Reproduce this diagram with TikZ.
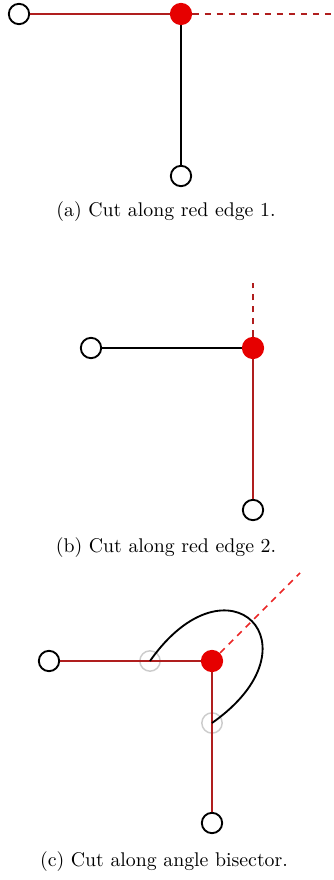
\documentclass[tikz,border=0pt]{standalone}
\usepackage{xcolor}
\usepackage{tikz}
\usetikzlibrary{positioning,calc}
\definecolor{edgered}{RGB}{176,30,30}
\definecolor{cutred}{RGB}{230,0,0}

\begin{document}
\begin{tikzpicture}[
  x=0.54pt, y=0.54pt,
  vtx/.style={circle, draw=black, line width=1pt, fill=white,
    minimum size=11pt, inner sep=0pt},
  cutvtx/.style={circle, fill=cutred, minimum size=12pt, inner sep=0pt},
  ghost/.style={circle, draw=black!20, line width=0.8pt,
    minimum size=11pt, inner sep=0pt},
  redge/.style={draw=edgered, line width=1pt},
  bedge/.style={draw=black, line width=1pt},
  cutline/.style={draw=edgered, line width=1pt, dash pattern=on 3.5pt off 3pt},
  caption/.style={font=\fontsize{10.7pt}{13pt}\selectfont}
]
  \useasboundingbox (0,0) rectangle (333,880);

  % (a) cut along red edge 1
  \node[vtx] (a1) at (19,866) {};
  \node[vtx] (a2) at (181,704) {};
  \coordinate (ae) at (333,866);
  \draw[redge] (a1) -- (181,866);
  \draw[bedge] (181,866) -- (a2);
  \node[cutvtx] (ac) at (181,866) {};
  \draw[cutline] (ac) -- (ae);
  \node[caption] (capa) at (166,668) {(a) Cut along red edge 1.};

  % (b) cut along red edge 2
  \node[vtx] (b1) at (91,532) {};
  \node[vtx] (b2) at (253,370) {};
  \coordinate (be) at (253,597);
  \draw[bedge] (b1) -- (253,532);
  \draw[redge] (253,532) -- (b2);
  \node[cutvtx] (bc) at (253,532) {};
  \draw[cutline] (bc) -- (be);
  \node[caption] (capb) at (166,332) {(b) Cut along red edge 2.};

  % (c) cut along angle bisector
  \node[vtx] (c1) at (49,219) {};
  \node[vtx] (c2) at (212,57) {};
  \node[ghost] (g1) at (150,219) {};
  \node[ghost] (g2) at (212,157) {};
  \coordinate (ce) at (300,307);
  \draw[redge] (c1) -- (212,219) -- (c2);
  \draw[bedge] (g1.center) .. controls (228,330) and (323,235) .. (g2.center);
  \node[cutvtx] (cc) at (212,219) {};
  \draw[cutline, draw=cutred!85, line width=0.9pt] (cc) -- (ce);
  \node[caption] (capc) at (164,18) {(c) Cut along angle bisector.};
\end{tikzpicture}
\end{document}
